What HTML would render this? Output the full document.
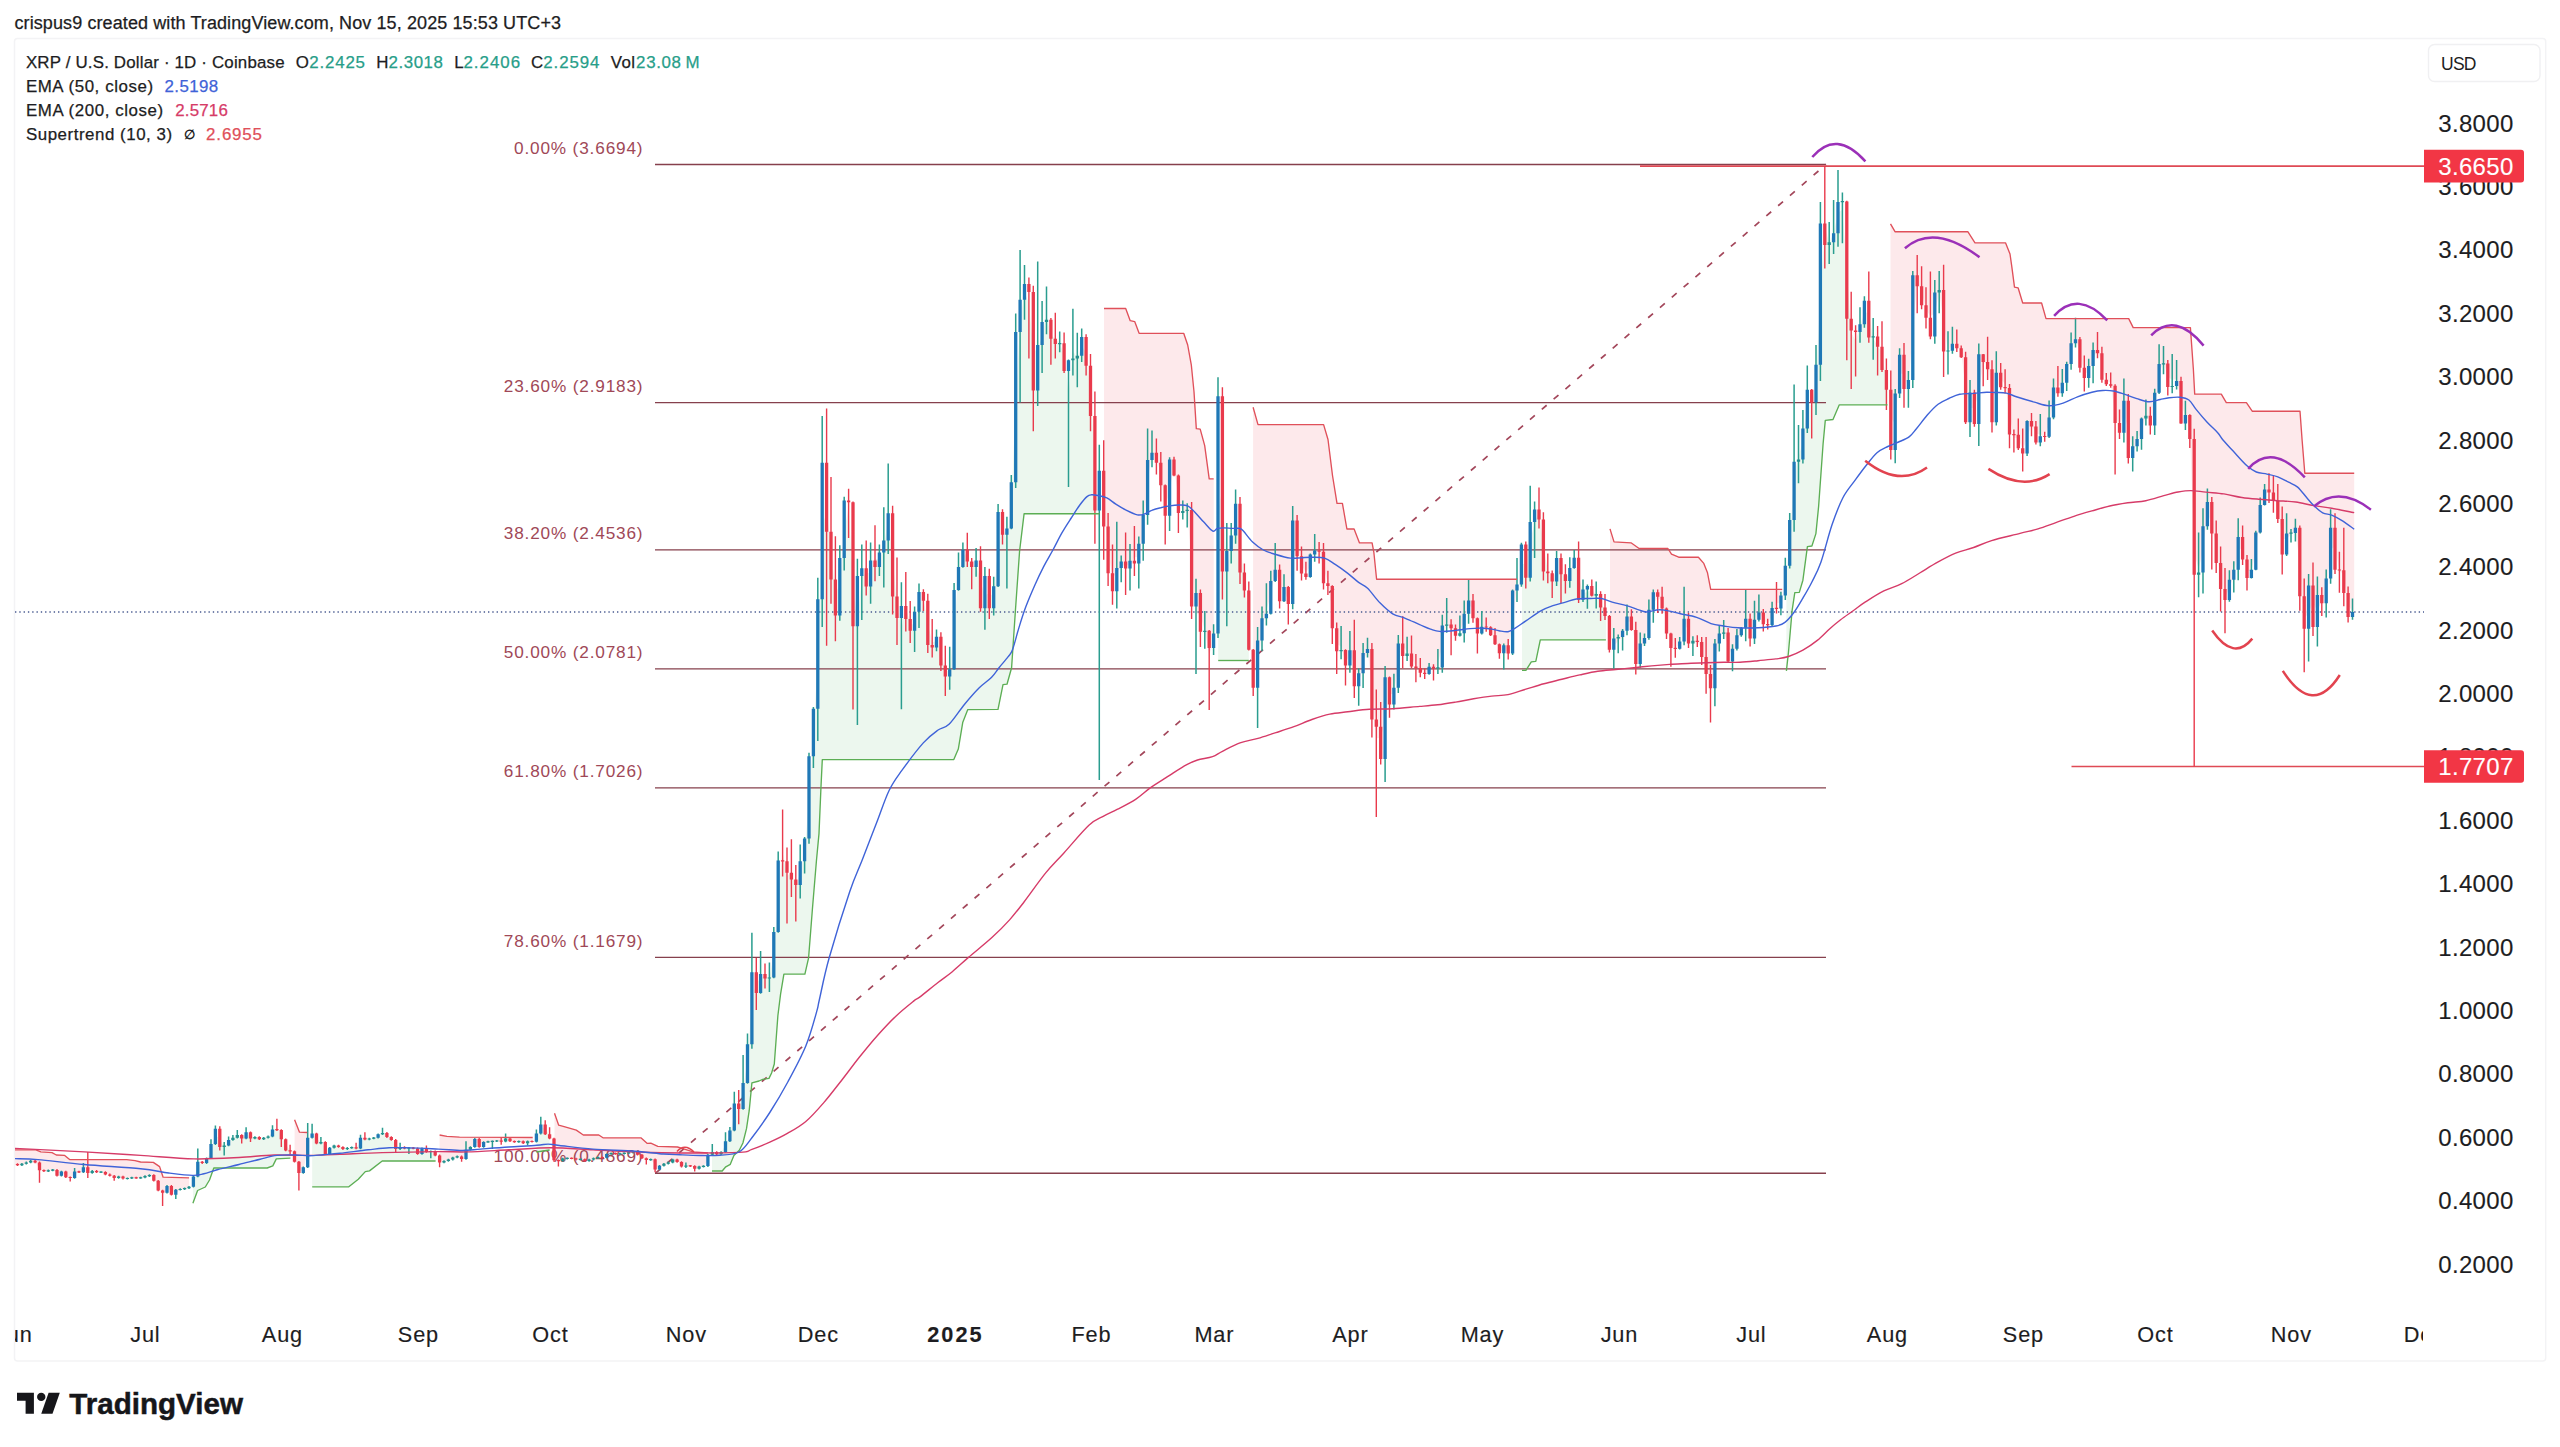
<!DOCTYPE html>
<html lang="en"><head><meta charset="utf-8"><title>XRP / U.S. Dollar chart</title>
<style>html,body{margin:0;padding:0;background:#fff}svg{display:block}</style></head>
<body>
<svg width="2560" height="1447" viewBox="0 0 2560 1447" font-family='"Liberation Sans", sans-serif'>
<rect width="2560" height="1447" fill="#fff"/>
<rect x="14.5" y="38.5" width="2531.2" height="1322.5" rx="3" fill="none" stroke="#f3f3f5" stroke-width="1.5"/>
<defs><clipPath id="pane"><rect x="15" y="39" width="2409" height="1270"/></clipPath></defs>
<g clip-path="url(#pane)">
<polygon points="14.8,1149.8 35.9,1149.8 40.8,1151.9 52,1152.6 56.3,1155 64.7,1155.4 69.6,1159.6 126.6,1159.6 135,1160.7 140.6,1162 153.3,1162.4 159.6,1166.6 163.1,1177.2 189.1,1177.9 189.1,1187.5 189,1187.5 184.6,1188.6 180.2,1189.5 175.8,1193.2 171.4,1190.3 167,1189.3 162.6,1194.7 158.2,1185.6 153.8,1177.9 149.4,1175.6 145,1176.8 140.6,1177.8 136.2,1177.8 131.8,1177.9 127.4,1178.5 123,1177.5 118.6,1177.2 114.2,1177.3 109.8,1175.1 105.4,1173.2 101,1172.1 96.6,1171.6 92.2,1171.9 87.8,1167.5 83.4,1169 79,1171.9 74.6,1174 70.2,1178.2 65.8,1174.4 61.4,1173.7 57,1172.8 52.7,1170.2 48.3,1170.9 43.9,1170.7 39.5,1169.3 35.1,1161.6 30.7,1161.6 26.3,1163.1 21.9,1164.5 17.5,1164.7 14.8,1164.7" fill="#fde9eb"/>
<polygon points="192.9,1203.2 197.6,1190.5 205.3,1187 209.5,1180 213.8,1168 267.2,1168 272.8,1165.9 276.3,1158.9 290.4,1158.2 290.4,1150.3 290.1,1150.3 285.7,1144.8 281.3,1136.4 276.9,1127.3 272.5,1132 268.1,1137.1 263.7,1138.5 259.3,1138.2 254.9,1137.8 250.5,1136 246.1,1134.3 241.7,1137.8 237.3,1135.4 232.9,1138.4 228.6,1142.1 224.2,1147.5 219.8,1138.1 215.4,1135.8 211,1150.1 206.6,1160.7 202.2,1162.4 197.8,1166 193.4,1181.6 192.9,1181.6" fill="#ecf7ee"/>
<polygon points="294.6,1119.8 299.5,1132.2 307.3,1132.5 307.3,1149.1 307.7,1149.1 303.3,1170.2 298.9,1171.5 294.5,1156.4 294.6,1156.4" fill="#fde9eb"/>
<polygon points="312.2,1186.8 348.8,1186.8 358.3,1179.3 365.3,1171.6 369.5,1170.9 382.2,1161 435.6,1161 435.6,1153.3 435.2,1153.3 430.8,1152.9 426.4,1149.6 422,1151.2 417.6,1151.2 413.2,1148.1 408.9,1149.4 404.5,1147.7 400.1,1147.2 395.7,1145.2 391.3,1138.5 386.9,1135 382.5,1132.5 378.1,1136.1 373.7,1138.2 369.3,1139 364.9,1137.5 360.5,1142.5 356.1,1146.9 351.7,1147.7 347.3,1148.5 342.9,1148 338.5,1146.3 334.1,1146.6 329.7,1150.8 325.3,1148 320.9,1141.7 316.5,1138.5 312.1,1133.4 312.2,1133.4" fill="#ecf7ee"/>
<polygon points="439.6,1135 446.9,1136.4 459.5,1137.1 532.7,1137.5 532.7,1141.5 532,1141.5 527.6,1142.6 523.2,1142.2 518.8,1141.7 514.4,1141.7 510,1139.9 505.6,1139 501.2,1141.1 496.8,1141 492.4,1143 488,1141.8 483.6,1144.5 479.2,1142.9 474.8,1142.9 470.4,1148.4 466,1152.4 461.6,1158.1 457.2,1156.9 452.8,1158.6 448.4,1160.3 444,1161.7 439.6,1159.9 439.6,1159.9" fill="#fde9eb"/>
<polygon points="536.4,1152 549.6,1150 549.6,1134.8 549.6,1134.8 545.2,1128.5 540.8,1127.3 536.4,1136.8 536.4,1136.8" fill="#ecf7ee"/>
<polygon points="554.5,1113.2 558.7,1125.2 565,1126.8 576.3,1130.1 583.3,1135 598.8,1135 603,1137.8 640.9,1137.8 647.3,1143.4 650.8,1143.2 657.8,1146.3 677.5,1147 684.5,1149.1 693,1151.9 707.9,1153 707.9,1160.4 707.9,1160.4 703.5,1166.3 699.1,1167.7 694.7,1167.9 690.3,1165.9 685.9,1165.7 681.5,1164.3 677.1,1160.8 672.7,1161 668.3,1163.1 663.9,1164.7 659.5,1167.6 655.1,1164.8 650.7,1159.6 646.3,1160 641.9,1156.4 637.5,1153.3 633.1,1152.2 628.7,1152.9 624.3,1153.4 619.9,1153.8 615.5,1153.6 611.1,1153.6 606.7,1155.9 602.3,1157.5 597.9,1157.7 593.5,1158.9 589.1,1160.3 584.8,1160.1 580.4,1159.4 576,1159 571.6,1158.3 567.2,1158.4 562.8,1159.8 558.4,1161.9 554,1149.6 554.5,1149.6" fill="#fde9eb"/>
<polygon points="712,1171 722.2,1171 725.8,1166.8 730.3,1164.3 733.9,1155.6 739.3,1150.2 742.9,1143 746.5,1128.7 749.2,1110.7 751.9,1082.9 759,1081 762.7,1079.3 769,1078.4 771.6,1073 774.3,1064 777.9,1015.5 780.6,993.9 783.9,974.1 804.9,974.1 808.6,957.8 812.4,909.2 816.5,860 819,833.6 820.9,788.7 822.3,759.6 953.8,759.6 958.3,749.1 962.8,722.2 967.8,709.6 998,709.3 1003,684.7 1007,684.2 1011.6,667.7 1015.2,613.8 1019.6,550.9 1024.1,513.7 1099.6,513.7 1099.6,551.5 1099.3,551.5 1094.9,465.4 1090.5,391.7 1086.1,353.1 1081.7,345.8 1077.3,358.6 1072.9,350.8 1068.5,394.4 1064.1,354.9 1059.7,342.8 1055.3,338.5 1050.9,335.3 1046.5,315.7 1042.1,335.2 1037.7,350.8 1033.3,349.9 1028.9,303 1024.5,292.1 1020.1,321.1 1015.7,404 1011.3,503.7 1006.9,542.1 1002.5,525.1 998.1,547.4 993.7,596.7 989.3,592.9 984.9,595.2 980.5,581.7 976.1,563.1 971.7,568.9 967.3,552.7 962.9,556.7 958.5,575 954.1,628 949.7,670.5 945.3,671 940.9,651.4 936.5,641.3 932.2,642.2 927.8,623.1 923.4,598.2 919,603.8 914.6,625.3 910.2,623.5 905.8,607.1 901.4,628.9 897,604.3 892.6,557.5 888.2,517.8 883.8,546.9 879.4,559.9 875,558.5 870.6,573.4 866.2,572.8 861.8,577.1 857.4,621.4 853,584.8 848.6,507.4 844.2,531.4 839.8,584.9 835.4,593.1 831,548 826.6,512.2 822.2,526.2 817.8,656.7 813.4,735 809,797.9 804.6,852.6 800.2,872.3 795.8,887.7 791.4,872.1 787,876.3 782.6,852 778.2,894.2 773.8,953.7 769.4,977.6 765,976.2 760.6,978 756.3,983.4 751.9,999.5 747.5,1061 743.1,1089.1 738.7,1106.7 734.3,1114.3 729.9,1135.2 725.5,1144.6 721.1,1153.1 716.7,1153.1 712.3,1151.6 712,1151.6" fill="#ecf7ee"/>
<polygon points="1104,308.5 1125.7,308.5 1130.2,320.7 1134.7,321.6 1139.1,333.3 1183.7,333.3 1187.7,345 1191.3,364.8 1194,391.7 1196.3,428.6 1200.2,429.1 1204.7,445.6 1209.2,478.9 1213.7,478.9 1213.7,640.2 1213.6,640.2 1209.2,654.7 1204.8,630.6 1200.4,615.3 1196,613.1 1191.6,559.4 1187.2,512.9 1182.8,511 1178.4,499 1174,467 1169.6,491 1165.2,507.5 1160.8,475.3 1156.4,457.1 1152,452.6 1147.6,482.1 1143.2,530 1138.8,558.1 1134.4,556.6 1130,565.9 1125.6,564.4 1121.2,566.8 1116.8,572.3 1112.5,578.5 1108.1,549.7 1103.7,499.4 1104,499.4" fill="#fde9eb"/>
<polygon points="1218.2,660.5 1248.8,660.5 1248.8,618.1 1248.8,618.1 1244.4,581 1240,539.3 1235.6,518.1 1231.2,543.2 1226.8,567.9 1222.4,488.6 1218,511.3 1218.2,511.3" fill="#ecf7ee"/>
<polygon points="1253.1,407.2 1258,424.6 1323.6,424.6 1328,439.5 1332.5,475.5 1337,503.3 1342.4,503.3 1346.9,529 1354.1,529 1359.5,542.9 1372.1,542.9 1373.9,552.7 1376.6,579.2 1517,579.2 1517,583.8 1517,583.8 1512.6,622.2 1508.2,649.3 1503.8,652.8 1499.4,649.9 1495,638.2 1490.6,631.3 1486.2,625.8 1481.8,626.5 1477.4,630.7 1473,608.9 1468.6,604.4 1464.2,622.5 1459.9,630.3 1455.5,632.3 1451.1,631.8 1446.7,620.2 1442.3,645.1 1437.9,664.6 1433.5,670 1429.1,669.7 1424.7,673.5 1420.3,669 1415.9,667.7 1411.5,656 1407.1,651.9 1402.7,646 1398.3,664.8 1393.9,693.9 1389.5,694 1385.1,721.1 1380.7,738.1 1376.3,738.2 1371.9,687.2 1367.5,649.3 1363.1,664.4 1358.7,683.4 1354.3,663.6 1349.9,654.9 1345.5,662.5 1341.1,646.6 1336.7,644 1332.3,610.9 1327.9,583.7 1323.5,566.9 1319.1,552 1314.7,550.2 1310.3,565.7 1305.9,573 1301.5,564.2 1297.1,540.6 1292.7,559.9 1288.3,600.4 1284,591.1 1279.6,586 1275.2,568.9 1270.8,595.1 1266.4,610.2 1262,629.2 1257.6,670.8 1253.2,670.6 1253.1,670.6" fill="#fde9eb"/>
<polygon points="1522,670.4 1525.9,670.4 1531.3,661.9 1535.8,661.4 1540.3,639.8 1605.9,639.8 1605.9,609.4 1605,609.4 1600.6,603.4 1596.2,594.9 1591.8,589.5 1587.4,592.2 1583,592.7 1578.6,575.5 1574.2,561.1 1569.8,573.5 1565.4,578.3 1561,572.2 1556.6,569.1 1552.2,580.8 1547.8,570.4 1543.4,545.9 1539,511.2 1534.6,522.8 1530.2,541.8 1525.8,563.1 1521.4,564.7 1522,564.7" fill="#ecf7ee"/>
<polygon points="1610,528.9 1614,541.9 1631,542.8 1639.1,548.5 1667.9,548.5 1671.5,554.1 1678.7,557.2 1698.4,557.2 1703.8,563.4 1707.4,572.4 1710.7,589.3 1782.2,589.3 1782.2,602.8 1780.9,602.8 1776.5,603 1772.1,615.4 1767.7,624.4 1763.3,619.2 1758.9,612.1 1754.5,625.8 1750.1,629.4 1745.7,619.5 1741.3,631.7 1736.9,640.9 1732.5,656.4 1728.1,646.1 1723.7,631.3 1719.3,638.6 1714.9,669.2 1710.5,687.4 1706.1,665.4 1701.7,650.3 1697.3,641.3 1692.9,644.1 1688.5,630.7 1684.1,623.1 1679.7,644.3 1675.3,648.1 1670.9,645.2 1666.5,622.1 1662.1,601.4 1657.7,597.8 1653.3,603.6 1648.9,621.8 1644.5,640.3 1640.2,651.9 1635.8,647.6 1631.4,621.6 1627,621.8 1622.6,636.9 1618.2,640.8 1613.8,646.2 1609.4,633.3 1610,633.3" fill="#fde9eb"/>
<polygon points="1786.4,670.9 1788.5,652 1792.1,610.7 1794.8,592.7 1799.3,592.4 1802.9,580.2 1807.4,546.6 1811.9,546 1815.9,533.6 1818.6,506.6 1823.1,443.8 1825.3,420.4 1833,419.5 1839.3,404.8 1887.5,404.8 1887.5,382.1 1886.4,382.1 1882,352.5 1877.6,346.2 1873.2,337.9 1868.8,313.1 1864.4,312.2 1860,326.5 1855.6,341 1851.2,332.5 1846.8,270.3 1842.4,209.8 1838,213 1833.6,232.4 1829.2,243.3 1824.8,225.7 1820.4,292.7 1816,381.8 1811.7,404.9 1807.3,404.2 1802.9,440.4 1798.5,457.4 1794.1,474.5 1789.7,541.8 1785.3,579.7 1786.4,579.7" fill="#ecf7ee"/>
<polygon points="1890.5,223.8 1895,231.7 1967.8,231.7 1975,242.8 2005.5,242.8 2010,254 2011.8,266.6 2014.5,287.2 2018.1,287.8 2022.7,303 2041.6,303 2046,318.6 2128.7,318.6 2133.2,327.6 2190.4,327.6 2193.4,369.8 2194.7,394.1 2221.3,394.1 2226.3,402.6 2246.4,402.6 2252.2,411.2 2300,411.2 2302.1,440 2304.8,473.2 2354.2,473.2 2354.2,611.8 2352.5,611.8 2348.1,604.7 2343.8,574.3 2339.4,571.1 2335,546.2 2330.6,549.7 2326.2,592.1 2321.8,600.4 2317.4,611.2 2313,602.7 2308.6,612.4 2304.2,618.9 2299.8,565 2295.4,530.2 2291,534.4 2286.6,539.3 2282.2,538.7 2277.8,506.8 2273.4,495.6 2269,489.5 2264.6,496 2260.2,517.1 2255.8,550.8 2251.4,571.3 2247,570.8 2242.6,546.7 2238.2,551.3 2233.8,575.8 2229.4,587.9 2225,597.5 2220.6,577.6 2216.2,547.5 2211.8,525.5 2207.4,511.7 2203,550.2 2198.6,569.3 2194.2,552.3 2189.8,429.1 2185.4,417.3 2181,401.2 2176.6,379.1 2172.2,380 2167.8,376.5 2163.5,362 2159.1,373.8 2154.7,410.5 2150.3,420.6 2145.9,414.8 2141.5,431.2 2137.1,441.9 2132.7,453 2128.3,429.1 2123.9,413.6 2119.5,426 2115.1,416.8 2110.7,382.6 2106.3,380.8 2101.9,365.7 2097.5,348.4 2093.1,360.5 2088.7,372.6 2084.3,373.1 2079.9,354.2 2075.5,336.9 2071.1,352.4 2066.7,374.9 2062.3,385.4 2057.9,385.8 2053.5,400.7 2049.1,423.2 2044.7,436.6 2040.3,434.8 2035.9,433.6 2031.5,424.2 2027.1,437.7 2022.7,450.4 2018.3,437.9 2013.9,437.7 2009.5,413.7 2005.1,384.5 2000.7,378.2 1996.3,392.9 1992,396 1987.6,362 1983.2,364.1 1978.8,391.9 1974.4,408.3 1970,407.9 1965.6,388.8 1961.2,352.3 1956.8,343.4 1952.4,343.7 1948,351.9 1943.6,320.8 1939.2,291.7 1934.8,313.3 1930.4,316.3 1926,309.7 1921.6,291.8 1917.2,282.4 1912.8,328.6 1908.4,386.9 1904,373.7 1899.6,373.6 1895.2,423.9 1890.8,417.5 1890.5,417.5" fill="#fde9eb"/>
<line x1="655" y1="164.5" x2="1826" y2="164.5" stroke="#86404d" stroke-width="1.35"/>
<line x1="655" y1="402.6" x2="1826" y2="402.6" stroke="#86404d" stroke-width="1.35"/>
<line x1="655" y1="549.9" x2="1826" y2="549.9" stroke="#86404d" stroke-width="1.35"/>
<line x1="655" y1="668.9" x2="1826" y2="668.9" stroke="#86404d" stroke-width="1.35"/>
<line x1="655" y1="787.9" x2="1826" y2="787.9" stroke="#86404d" stroke-width="1.35"/>
<line x1="655" y1="957.4" x2="1826" y2="957.4" stroke="#86404d" stroke-width="1.35"/>
<line x1="655" y1="1173.2" x2="1826" y2="1173.2" stroke="#86404d" stroke-width="1.35"/>
<line x1="655.5" y1="1173.2" x2="1826" y2="164.5" stroke="#a3465a" stroke-width="1.7" stroke-dasharray="6.4 9.2"/>
<line x1="15" y1="611.9" x2="2424" y2="611.9" stroke="#485a90" stroke-width="1.45" stroke-dasharray="1.35 2.95"/>
<line x1="1640" y1="166.2" x2="2424" y2="166.2" stroke="#df4a55" stroke-width="1.7"/>
<line x1="2071.5" y1="766.5" x2="2424" y2="766.5" stroke="#df4a55" stroke-width="1.5"/>
<text x="514" y="153.7" font-size="17.2" fill="#a04857" textLength="128.6" lengthAdjust="spacing">0.00% (3.6694)</text>
<text x="503.8" y="391.8" font-size="17.2" fill="#a04857" textLength="138.8" lengthAdjust="spacing">23.60% (2.9183)</text>
<text x="503.8" y="539.1" font-size="17.2" fill="#a04857" textLength="138.8" lengthAdjust="spacing">38.20% (2.4536)</text>
<text x="503.8" y="658.1" font-size="17.2" fill="#a04857" textLength="138.8" lengthAdjust="spacing">50.00% (2.0781)</text>
<text x="503.8" y="777.1" font-size="17.2" fill="#a04857" textLength="138.8" lengthAdjust="spacing">61.80% (1.7026)</text>
<text x="503.8" y="946.6" font-size="17.2" fill="#a04857" textLength="138.8" lengthAdjust="spacing">78.60% (1.1679)</text>
<text x="493.6" y="1162.4" font-size="17.2" fill="#a04857" textLength="149" lengthAdjust="spacing">100.00% (0.4869)</text>
<path d="M21.9 1163V1166M26.3 1161.6V1164.6M30.7 1159.9V1163.2M48.3 1169.6V1172.1M52.7 1169.1V1171.2M61.4 1170.8V1176.6M74.6 1168V1178.7M83.4 1163.1V1173.1M92.2 1170.1V1173.8M101 1171.2V1173.1M118.6 1175.7V1178.7M127.4 1177.5V1179.4M131.8 1176.7V1179.1M140.6 1176.7V1178.8M145 1175.3V1178.3M149.4 1174.3V1176.9M167 1185.1V1193.5M175.8 1189V1199M180.2 1188.3V1190.6M184.6 1187.4V1189.9M189 1186V1189M193.4 1175.7V1187.6M197.8 1148.4V1177.3M206.6 1157.4V1163.9M211 1139.2V1159M215.4 1125.4V1144.9M224.2 1142V1155.4M228.6 1136.4V1146.3M232.9 1135V1140.7M237.3 1130.1V1138.6M246.1 1127.3V1139.3M254.9 1136.3V1139.3M263.7 1137V1140M268.1 1135.6V1138.6M272.5 1125.2V1137.2M303.3 1166.5V1173.8M307.7 1123V1168.1M312.1 1123.8V1138.6M320.9 1137.1V1144.2M329.7 1146.9V1154.8M334.1 1144.7V1148.5M347.3 1147.1V1149.9M351.7 1146.6V1148.7M360.5 1134.7V1149.2M369.3 1137.7V1140.3M373.7 1137V1139.3M378.1 1133.5V1138.6M382.5 1127.7V1135.1M400.1 1142.7V1149.9M408.9 1147.1V1154M422 1147.6V1154.8M430.8 1150.4V1158.2M444 1160.2V1163.2M448.4 1158.8V1161.8M452.8 1156.7V1160.4M457.2 1155.6V1158.3M466 1141.3V1159.7M470.4 1146.2V1150.6M474.8 1138.1V1147.8M483.6 1141.2V1147.8M488 1140.7V1142.8M492.4 1140.4V1149.1M496.8 1140.1V1142M505.6 1133.6V1142.3M518.8 1140.5V1142.8M527.6 1140.5V1145.5M536.4 1129.4V1142.6M540.8 1116.7V1134.4M562.8 1157.8V1161.8M567.2 1157.4V1159.4M580.4 1158.4V1160.4M589.1 1158.8V1161.8M593.5 1157.4V1160.4M597.9 1156.4V1159M606.7 1153.2V1158.6M611.1 1152.5V1154.8M619.9 1152.8V1154.8M624.3 1152.5V1154.4M628.7 1151.8V1154.1M633.1 1151.1V1153.4M650.7 1158.4V1160.8M659.5 1164.9V1170.3M663.9 1163V1166.5M668.3 1161.6V1164.6M672.7 1158.8V1163.2M685.9 1162.4V1168M699.1 1165.8V1169.6M703.5 1165.3V1167.4M707.9 1153.9V1166.9M712.3 1144V1155.5M721.1 1151.2V1155M725.5 1132.3V1152.8M729.9 1126.9V1142.1M734.3 1091.8V1131.3M743.1 1055V1109.7M747.5 1033.4V1083.7M751.9 932.8V1048.7M760.6 951.1V993.8M769.4 962.5V992.1M773.8 927.1V978.2M778.2 851.4V932.8M800.2 844.6V898.6M804.6 837V873.5M809 752.7V843.8M813.4 706.9V768M817.8 577.7V741.1M822.2 415.9V627M839.8 545.3V620.8M844.2 496.8V570.5M857.4 558.8V724.9M861.8 544.4V619.9M870.6 542.6V603.7M879.4 544.4V575.9M883.8 507.2V587.5M888.2 463.6V553.9M901.4 582.2V709.3M914.6 606.4V652.1M919 583.4V628M936.5 629.6V651.2M949.7 646.7V689.8M954.1 583.1V670M958.5 552.5V590.7M962.9 542.6V567.7M976.1 548V576.8M984.9 566.9V629.8M993.7 576.8V615.4M998.1 504V587.1M1006.9 516.7V588.6M1011.3 475V529.2M1015.7 313.6V488M1020.1 250.1V402.5M1024.5 265V319.8M1037.7 261.4V406.1M1042.1 301V372.9M1046.5 286.6V334.2M1059.7 331.5V352.2M1068.5 359.5V487M1072.9 308.7V375.6M1077.3 332.8V387.2M1081.7 328.5V362.1M1099.3 444.7V779.9M1116.8 521.8V608.4M1121.2 555.4V582.3M1130 544V590.4M1138.8 536.5V588.6M1143.2 500.5V560.7M1147.6 428.6V524.8M1152 430.4V467.2M1169.6 457.3V531.1M1182.8 500.5V519.4M1187.2 503.2V527.5M1196 578.7V674M1204.8 611.1V648.8M1213.6 624.2V655.1M1218 377.3V638M1226.8 523V626.3M1231.2 523V563.4M1235.6 489.4V543.7M1257.6 627V727.9M1262 606.6V651.2M1266.4 583.3V625.5M1270.8 570.7V614.6M1275.2 542.9V581.9M1284 574.3V602.1M1292.7 506V609.3M1310.3 553.6V577.8M1314.7 533.9V561.7M1341.1 626.1V659.3M1349.9 630.9V672.8M1358.7 668.3V705.7M1363.1 643.1V688.1M1367.5 637.7V657.5M1385.1 666.1V781.9M1393.9 673.7V709.6M1398.3 635V693.1M1407.1 636.8V661.1M1429.1 662.9V674.8M1437.9 648.9V674M1442.3 614.7V672.8M1446.7 598V632.7M1459.9 615.6V636.6M1464.2 600.4V642.6M1468.6 579.7V623.7M1481.8 611.1V634.4M1503.8 643.4V669.5M1512.6 589.6V655.1M1517 558.1V602.1M1521.4 542.8V586.8M1530.2 485.8V581.4M1534.6 501.4V558.1M1556.6 550.9V585.9M1569.8 557.2V587.7M1574.2 550V568.7M1583 579.6V602.1M1587.4 584.6V608.7M1596.2 581.4V608.4M1613.8 628.1V668.6M1618.2 634.4V653.3M1622.6 629V650.6M1627 604.4V635.3M1640.2 632.6V667.7M1644.5 633.5V646.1M1648.9 599.4V639.8M1653.3 589.5V622.7M1679.7 637.1V649.6M1684.1 586.8V645.2M1692.9 636.2V656M1714.9 638.9V706.3M1719.3 626V651.5M1723.7 620V638.9M1732.5 644.3V671.3M1736.9 629V650.6M1741.3 626.9V636.8M1745.7 590V641.3M1754.5 600.8V644M1758.9 594.5V621.5M1772.1 601.7V626.9M1780.9 591.8V615.2M1785.3 557.7V599.9M1789.7 512.9V568.5M1794.1 384.5V531.8M1798.5 424.9V483.3M1802.9 410V463.5M1807.3 365.6V433M1816 344.9V415M1820.4 201.9V380.9M1829.2 222V263.9M1833.6 200.1V254M1838 169.9V246.8M1842.4 192.5V243.2M1860 307.2V342.8M1864.4 296.2V327.7M1873.2 318V359.7M1895.2 388.9V463.2M1899.6 348.2V397.9M1908.4 371V407.8M1912.8 271.1V388.1M1934.8 280V343.8M1939.2 271.1V313.3M1948 331.3V374.4M1952.4 326.8V353.7M1970 380V436.9M1978.8 343.5V445.9M1996.3 351.2V425.4M2027.1 420.3V456.1M2040.3 413.9V446.2M2049.1 400.4V438.1M2053.5 378.5V419.3M2062.3 368.9V396.8M2066.7 361.8V391.1M2071.1 332.5V369.8M2075.5 317.7V347.4M2088.7 358.7V387.8M2093.1 342.5V383.3M2123.9 378.5V442.6M2132.7 436.3V471.4M2137.1 430.9V451.6M2141.5 417.5V449.8M2145.9 399.5V425.6M2154.7 388.7V434.9M2159.1 344.3V394.1M2163.5 346.1V374.3M2172.2 354V393.2M2176.6 360V389.6M2185.4 400.8V430M2198.6 532.5V597.2M2203 508.3V593.6M2207.4 488.5V529.8M2229.4 570.3V601.7M2233.8 561.3V592.4M2238.2 518.2V580.2M2251.4 559V578.4M2255.8 530.7V570.3M2260.2 497.5V533.4M2264.6 484V505.6M2286.6 513.3V555.9M2291 528.9V542.4M2295.4 518.7V541.5M2308.6 573.9V661.4M2317.4 576.6V646.6M2326.2 569.4V617.5M2330.6 509.2V583.8M2352.5 598.5V619.7" stroke="#2a9d8f" stroke-width="1.5" fill="none"/>
<path d="M17.5 1163.3V1166M35.1 1159.9V1163.2M39.5 1161.6V1182.8M43.9 1169.4V1172.1M57 1169.1V1176.6M65.8 1170.8V1178M70.2 1176.4V1181.4M79 1170.8V1173.1M87.8 1151.9V1177.9M96.6 1170.1V1173.1M105.4 1171.2V1175.2M109.8 1173.6V1176.6M114.2 1175V1180.7M123 1175.7V1179.4M136.2 1176.7V1178.8M153.8 1174.3V1181.5M158.2 1179.9V1191.3M162.6 1189.7V1206M171.4 1185.1V1195.6M202.2 1160.9V1163.9M219.8 1126.3V1150.5M241.7 1134.2V1143.4M250.5 1131.4V1142M259.3 1136.3V1140M276.9 1118.8V1130.9M281.3 1129.3V1147M285.7 1138.4V1151.3M290.1 1144.8V1154.7M294.5 1150.4V1162.5M298.9 1160.9V1190.5M316.5 1132.8V1144.2M325.3 1141.2V1154.8M338.5 1144.7V1147.8M342.9 1146.2V1149.9M356.1 1142.7V1149.2M364.9 1132.2V1140.3M386.9 1132.1V1137.9M391.3 1136.3V1140.7M395.7 1139.1V1152.6M404.5 1146.2V1149.2M413.2 1147.1V1149.2M417.6 1147.6V1154.8M426.4 1145.5V1152.7M435.2 1150.4V1156.2M439.6 1154.6V1167.3M461.6 1155.6V1161.7M479.2 1138.1V1147.8M501.2 1137.1V1144.8M510 1137.7V1142.1M514.4 1140.5V1142.8M523.2 1140.5V1144M532 1140.5V1142.6M545.2 1120.2V1135.1M549.6 1127.3V1139.3M554 1137.7V1161.7M558.4 1159.5V1166.6M571.6 1157.4V1159.3M576 1157.7V1160.4M584.8 1158.4V1161.8M602.3 1156.4V1158.6M615.5 1152.5V1154.8M637.5 1151.1V1155.5M641.9 1153.9V1159M646.3 1157.4V1164.5M655.1 1158.4V1172.3M677.1 1158.8V1162.8M681.5 1161.2V1167.4M690.3 1164.9V1166.9M694.7 1165.3V1171.6M716.7 1151.2V1155M738.7 1090V1124.2M756.3 958V1010.1M765 963.4V988.5M782.6 809.6V876.5M787 847.6V923.6M791.4 839.3V897M795.8 865.1V921.4M826.6 408.4V645.8M831 477V603.7M835.4 536.3V641.3M848.6 488.7V538.1M853 501.4V709.6M866.2 540.5V595.6M875 525.2V581.3M892.6 505.8V614.5M897 557.5V644.9M905.8 571.9V631.6M910.2 601V643.1M923.4 589.3V610.9M927.8 593.8V653M932.2 618.9V657.5M940.9 632.3V671M945.3 645.8V696.1M967.3 532.7V566.9M971.7 557.9V589.3M980.5 546.2V611.8M989.3 568.7V619M1002.5 509.2V544.6M1028.9 277.6V358.5M1033.3 285.7V431.3M1050.9 318.1V364.8M1055.3 312.7V358.5M1064.1 332.4V372.9M1086.1 334.2V375.6M1090.5 354V431.3M1094.9 391.4V543.7M1103.7 440.2V559.8M1108.1 513.1V585.9M1112.5 544.6V604.8M1125.6 532.5V594.9M1134.4 526.1V576M1156.4 438.4V474.4M1160.8 451.9V501.4M1165.2 484.5V544.6M1174 456.8V476.2M1178.4 474.6V532.9M1191.6 502V619.1M1200.4 589.5V647M1209.2 630V709.9M1222.4 387.2V599.4M1240 497V584.1M1244.4 563.5V597.6M1248.8 581.5V650.6M1253.2 649V696.1M1279.6 564.4V608.4M1288.3 586.1V624.6M1297.1 515V570.7M1301.5 546.5V580.6M1305.9 561.7V579.7M1319.1 542V563.5M1323.5 542.9V589.6M1327.9 570.7V595M1332.3 585.2V644M1336.7 622.5V674M1345.5 649.2V685.4M1354.3 619.8V697.9M1371.9 643.1V737.5M1376.3 689.5V817.1M1380.7 702.1V764.4M1389.5 676.4V717.7M1402.7 616.2V668.3M1411.5 635.6V668.3M1415.9 653.9V682.3M1420.3 657.9V677.3M1424.7 668.3V679.1M1433.5 664.3V680.5M1451.1 619.2V655.2M1455.5 624.6V640.8M1473 594.1V622.8M1477.4 617.5V653.4M1486.2 617.4V631.8M1490.6 626.3V636.1M1495 628.1V645.1M1499.4 643.5V658.7M1508.2 638.9V659.6M1525.8 541.5V588.6M1539 487.6V528.4M1543.4 512.2V580.5M1547.8 553.6V583.2M1552.2 570.6V597.9M1561 553.6V603M1565.4 564.3V593.6M1578.6 541.5V603M1591.8 579.6V596.6M1600.6 591.3V620.9M1605 594V620M1609.4 615.1V652.4M1631.4 609.3V630.8M1635.8 621.8V674.5M1657.7 589.5V612.9M1662.1 586.8V613.8M1666.5 607.5V638.9M1670.9 632.7V666.8M1675.3 638V657.8M1688.5 612.9V647.9M1697.3 635.3V647M1701.7 637.1V665M1706.1 637.1V693.7M1710.5 665V722.5M1728.1 628.1V662.3M1750.1 613.4V646.6M1763.3 608.9V631.4M1767.7 618.8V629.6M1776.5 582V613.4M1811.7 389V438.4M1824.8 165.9V268.4M1846.8 200.7V360.2M1851.2 291.7V388.9M1855.6 325.2V376.4M1868.8 271.6V342.8M1877.6 326.1V375.5M1882 321.2V371.9M1886.4 358.4V410M1890.8 370.4V459.6M1904 343.1V407.8M1917.2 254.9V313.3M1921.6 266.2V309.3M1926 287.2V328.6M1930.4 271.6V339.3M1943.6 264.8V377.1M1956.8 329.5V351.9M1961.2 345.6V358.1M1965.6 351.8V424M1974.4 389.8V426.7M1983.2 353.9V386.3M1987.6 336.8V380M1992 360.2V432.6M2000.7 362.9V389.8M2005.1 369.2V393.4M2009.5 384.1V448.2M2013.9 429.4V452.4M2018.3 418.6V450M2022.7 428.5V471.4M2031.5 413V436.3M2035.9 421.1V444.4M2044.7 431.8V441.7M2057.9 365.9V396.8M2079.9 337.1V372.5M2084.3 355.5V391.4M2097.5 332.1V358.2M2101.9 346.8V382.8M2106.3 373.1V386M2110.7 372.5V387.8M2115.1 384.2V474.4M2119.5 409.4V439M2128.3 394.1V463.6M2150.3 406.7V434.5M2167.8 360V395.4M2181 376.7V423.8M2189.8 414.3V448M2194.2 428.8V766.5M2211.8 497.1V569.4M2216.2 520.5V573M2220.6 546.4V611.6M2225 567.9V633.2M2242.6 525.4V564.9M2247 555V590.6M2269 473.2V502.9M2273.4 475.9V512.8M2277.8 484V523M2282.2 506.5V574.4M2299.8 525.4V610.7M2304.2 578.4V672.2M2313 562.6V635.9M2321.8 587.3V616.1M2335 513.3V573.9M2339.4 551.8V592.7M2343.8 527.7V606.2M2348.1 586.5V622.4" stroke="#e93a4c" stroke-width="1.4" fill="none"/>
<path d="M61.4 1171.6V1175.8M74.6 1171.6V1177.9M83.4 1167.3V1172.3M167 1185.9V1192.7M175.8 1189.8V1194.8M193.4 1176.5V1186.8M197.8 1161.7V1176.5M206.6 1158.2V1163.1M211 1144.1V1158.2M215.4 1128.7V1144.1M228.6 1139.9V1145.5M246.1 1132.2V1138.5M272.5 1129.4V1136.4M303.3 1167.3V1173M307.7 1137.8V1167.3M312.1 1133.6V1137.8M329.7 1147.7V1154M360.5 1137.8V1148.4M378.1 1134.3V1137.8M422 1148.4V1154M466 1149.8V1158.9M474.8 1138.9V1147M483.6 1142V1147M536.4 1133.6V1141.8M540.8 1124.5V1133.6M606.7 1154V1157.8M659.5 1165.7V1169.5M707.9 1154.7V1166.1M725.5 1141.3V1152M729.9 1130.5V1141.3M734.3 1103.5V1130.5M743.1 1082.9V1108.9M747.5 1044.2V1082.9M751.9 972.3V1044.2M760.6 974.1V993M773.8 932V977.4M778.2 860.6V932M800.2 861.3V884.9M804.6 838.5V861.3M809 756.3V838.5M813.4 708.7V756.3M817.8 599.2V708.7M822.2 462.7V599.2M839.8 557.9V615.4M844.2 500.4V557.9M857.4 575.9V626.2M861.8 568.3V575.9M870.6 560.6V586.6M879.4 552.5V566.9M883.8 540.5V552.5M888.2 513.3V540.5M901.4 606.1V618.1M914.6 611.8V630.7M919 592V611.8M936.5 636.8V647.6M949.7 669.2V676.4M954.1 589.9V669.2M958.5 566.9V589.9M962.9 549.8V566.9M976.1 560.6V566.9M984.9 575.9V608.2M993.7 586.3V608.2M998.1 512.1V586.3M1006.9 528.4V534.7M1011.3 482.2V528.4M1015.7 332.1V482.2M1020.1 299.7V332.1M1024.5 283.9V299.7M1037.7 345V390.5M1042.1 322V345M1068.5 360.3V371.1M1081.7 336.9V355.8M1099.3 470.8V510.4M1116.8 567.9V591.3M1121.2 561.6V567.9M1130 560.7V568.5M1138.8 543.7V563.4M1143.2 514.9V543.7M1147.6 460V514.9M1152 452.8V460M1169.6 459.6V515.8M1196 593.1V606.6M1213.6 633.5V647.9M1218 396.2V633.5M1226.8 550.9V571.5M1231.2 535.6V550.9M1235.6 503.8V535.6M1257.6 640.4V687.7M1262 618.3V640.4M1266.4 613.8V618.3M1270.8 581.1V613.8M1275.2 569.8V581.1M1284 586.9V601.3M1292.7 520.4V604M1310.3 554.5V577M1314.7 550.6V554.5M1349.9 650.3V665.6M1358.7 673.3V686.3M1363.1 653V673.3M1367.5 648.9V653M1385.1 677.3V759M1393.9 687.7V704.6M1398.3 643.5V687.7M1429.1 666.8V674M1442.3 625.5V667.4M1464.2 613.8V633.2M1468.6 600.4V613.8M1481.8 626.8V633.6M1503.8 645.2V653.3M1512.6 590.4V653.6M1517 584.6V590.4M1521.4 544.6V584.6M1530.2 522.1V577.8M1534.6 509.5V522.1M1556.6 558.1V581.4M1569.8 567.9V581.1M1574.2 557.7V567.9M1583 589.5V599.7M1587.4 585.9V589.5M1613.8 638.6V649.7M1622.6 630.8V637.1M1627 616.5V630.8M1640.2 643.4V664.1M1644.5 638V643.4M1648.9 609.8V638M1653.3 592.2V609.8M1679.7 641.6V648.8M1684.1 618.8V641.6M1714.9 643.4V688.3M1719.3 633.5V643.4M1732.5 648.8V661.4M1736.9 635.3V648.8M1741.3 627.8V635.3M1745.7 618.8V627.8M1754.5 619.7V638.6M1758.9 612.5V619.7M1772.1 608V625.1M1780.9 595.4V608.6M1785.3 565.8V595.4M1789.7 520.1V565.8M1794.1 461.7V520.1M1802.9 428.5V459.6M1807.3 389.8V428.5M1816 364.7V402.4M1820.4 223.4V364.7M1833.6 233.3V242.3M1838 201.9V233.3M1860 324.3V332M1864.4 300.7V324.3M1895.2 393.4V450M1899.6 354.8V393.4M1908.4 380V388.9M1912.8 275.2V380M1934.8 292.6V336.6M1952.4 343.8V350.7M1970 392.5V422.2M1978.8 354.3V424M1996.3 372.8V422.2M2027.1 421.1V453.4M2040.3 436.3V442.6M2049.1 417.5V436.7M2053.5 387.5V417.5M2062.3 382.8V393.2M2066.7 364.1V382.8M2071.1 343.3V364.1M2075.5 339.3V343.3M2088.7 365.9V377.9M2093.1 350.1V365.9M2123.9 400.8V432.7M2132.7 446.2V457.9M2137.1 439V446.2M2141.5 418.4V439M2154.7 392.8V425.6M2159.1 364.1V392.8M2176.6 381V386M2185.4 415.1V423.4M2203 526.3V572.6M2207.4 502V526.3M2229.4 579.8V599.9M2233.8 569.7V579.8M2238.2 537V569.7M2251.4 569.7V578M2255.8 532.5V569.7M2260.2 505V532.5M2264.6 489.4V505M2286.6 533.4V554.6M2295.4 527.7V532.9M2308.6 585.6V628.7M2317.4 594.9V626.9M2326.2 578.4V603.2M2330.6 527.7V578.4M2352.5 612.1V617" stroke="#1f78b6" stroke-width="3.3" fill="none"/>
<path d="M21.9 1163.8V1165.2M26.3 1162.4V1163.8M30.7 1160.7V1162.4M48.3 1170.3V1171.5M52.7 1169.6V1170.8M92.2 1170.9V1173M101 1171.5V1172.7M118.6 1176.5V1177.9M127.4 1177.9V1179.1M131.8 1177.3V1178.5M140.6 1177.2V1178.4M145 1176.1V1177.5M149.4 1175V1176.2M180.2 1188.9V1190.1M184.6 1188V1189.2M189 1186.8V1188.2M224.2 1145.5V1147M232.9 1137.8V1139.9M237.3 1135V1137.8M254.9 1137.1V1138.5M263.7 1137.8V1139.2M268.1 1136.4V1137.8M320.9 1142V1143.4M334.1 1145.5V1147.7M347.3 1147.9V1149.1M351.7 1147.1V1148.3M369.3 1138.4V1139.6M373.7 1137.6V1138.8M382.5 1132.9V1134.3M400.1 1147V1149.1M408.9 1147.5V1148.7M430.8 1150.9V1152.1M444 1161V1162.4M448.4 1159.6V1161M452.8 1157.5V1159.6M457.2 1156.3V1157.5M470.4 1147V1149.8M488 1141.2V1142.4M492.4 1140.7V1141.9M496.8 1140.4V1141.6M505.6 1138.5V1141.5M518.8 1141.1V1142.3M527.6 1141.3V1143.2M562.8 1158.6V1161M567.2 1157.8V1159M580.4 1158.8V1160M589.1 1159.6V1161M593.5 1158.2V1159.6M597.9 1157.1V1158.3M611.1 1153V1154.2M619.9 1153.2V1154.4M624.3 1152.8V1154M628.7 1152.3V1153.5M633.1 1151.6V1152.8M650.7 1159V1160.2M663.9 1163.8V1165.7M668.3 1162.4V1163.8M672.7 1159.6V1162.4M685.9 1165.5V1166.7M699.1 1166.6V1168.8M703.5 1165.7V1166.9M712.3 1152V1154.7M721.1 1152V1154.2M769.4 977.4V978.6M1046.5 319.8V322M1059.7 343.1V344.3M1072.9 358.5V360.3M1077.3 355.8V358.5M1182.8 511V513.1M1187.2 509.8V511M1204.8 630.7V631.9M1341.1 650V651.2M1407.1 653.5V656.1M1437.9 667.2V668.4M1446.7 624.5V625.7M1459.9 633.2V635.8M1596.2 594V595.8M1618.2 637.1V638.6M1692.9 640.7V643.4M1723.7 632.5V633.7M1798.5 459.6V461.7M1829.2 242.3V245M1842.4 201.1V202.3M1873.2 336.3V337.5M1939.2 289.9V292.6M1948 350.4V351.6M2145.9 415.7V418.4M2163.5 363.2V364.4M2172.2 385.9V387.1M2198.6 572.6V574.8M2291 532.6V533.8" stroke="#24908f" stroke-width="3.3" fill="none"/>
<path d="M17.5 1164.1V1165.3M35.1 1160.7V1162.4M39.5 1162.4V1170.2M43.9 1170.1V1171.3M57 1169.9V1175.8M65.8 1171.6V1177.2M70.2 1176.9V1178.1M79 1171.3V1172.5M87.8 1167.3V1173M96.6 1170.9V1172.3M105.4 1172V1174.4M109.8 1174.4V1175.8M114.2 1175.8V1177.9M123 1176.5V1178.6M136.2 1177.2V1178.4M153.8 1175.1V1180.7M158.2 1180.7V1190.5M162.6 1190.5V1192.7M171.4 1185.9V1194.8M202.2 1161.7V1163.1M219.8 1128.7V1147M241.7 1135V1138.5M250.5 1132.2V1138.5M259.3 1137.1V1139.2M276.9 1129.1V1130.3M281.3 1130.1V1139.2M285.7 1139.2V1150.5M290.1 1150.2V1151.4M294.5 1151.2V1161.7M298.9 1161.7V1173M316.5 1133.6V1143.4M325.3 1142V1154M338.5 1145.5V1147M342.9 1147V1149.1M356.1 1147.3V1148.5M364.9 1137.8V1139.5M386.9 1132.9V1137.1M391.3 1137.1V1139.9M395.7 1139.9V1149.1M404.5 1147V1148.4M413.2 1147.5V1148.7M417.6 1148.4V1154M426.4 1148.4V1151.9M435.2 1151.2V1155.4M439.6 1155.4V1162.4M461.6 1156.4V1158.9M479.2 1138.9V1147M501.2 1140.6V1141.8M510 1138.5V1141.3M514.4 1141.1V1142.3M523.2 1141.3V1143.2M532 1140.9V1142.1M545.2 1124.5V1134.3M549.6 1134.3V1138.5M554 1138.5V1160.3M558.4 1160.1V1161.3M571.6 1157.7V1158.9M576 1158.4V1159.6M584.8 1159.2V1161M602.3 1156.9V1158.1M615.5 1153V1154.2M637.5 1151.9V1154.7M641.9 1154.7V1158.2M646.3 1158.2V1160M655.1 1159.2V1169.5M677.1 1159.6V1162M681.5 1162V1166.6M690.3 1165.3V1166.5M694.7 1166.1V1168.8M716.7 1152V1154.2M738.7 1103.5V1108.9M756.3 972.3V993M765 974.1V978.6M782.6 860.3V861.5M787 861.3V872.7M791.4 872.7V879.6M795.8 879.6V884.9M826.6 462.7V531.8M831 531.8V579.5M835.4 579.5V615.4M848.6 500.4V502.2M853 502.2V626.2M866.2 568.3V586.6M875 560.6V566.9M892.6 513.3V596.5M897 596.5V618.1M905.8 606.1V619M910.2 619V630.7M923.4 592V600.7M927.8 600.7V644.9M932.2 644.9V647.6M940.9 636.8V665.6M945.3 665.6V676.4M967.3 549.8V561.5M971.7 561.5V566.9M980.5 560.6V608.2M989.3 575.9V608.2M1002.5 512.1V534.7M1028.9 283.9V292M1033.3 292V390.5M1050.9 319.8V338.7M1055.3 338.7V344.1M1064.1 343.2V371.1M1086.1 336.9V365.7M1090.5 365.7V416M1094.9 416V510.4M1103.7 470.8V526.6M1108.1 526.6V573.3M1112.5 573.3V591.3M1125.6 561.6V568.5M1134.4 560.7V563.4M1156.4 452.8V462.7M1160.8 462.7V485.3M1165.2 485.3V515.8M1174 459.6V475.4M1178.4 475.4V513.1M1191.6 509.9V606.6M1200.4 593.1V631.7M1209.2 630.8V647.9M1222.4 396.2V571.5M1240 503.8V572.4M1244.4 572.4V590.5M1248.8 590.5V649.8M1253.2 649.8V687.7M1279.6 569.8V601.3M1288.3 586.9V604M1297.1 520.4V556.3M1301.5 556.3V573.4M1305.9 573.4V577M1319.1 550.6V551.8M1323.5 551.8V583.3M1327.9 583.3V586M1332.3 586V628.2M1336.7 628.2V651.2M1345.5 650V665.6M1354.3 650.3V686.3M1371.9 648.9V719.5M1376.3 719.5V726.7M1380.7 726.7V759M1389.5 677.3V704.6M1402.7 643.5V656.1M1411.5 653.5V666.5M1415.9 666.5V667.9M1420.3 667.9V672.8M1424.7 672.8V674M1433.5 666.8V668.3M1451.1 624.6V628.2M1455.5 628.2V635.8M1473 600.4V618.3M1477.4 618.3V633.6M1486.2 626.4V627.6M1490.6 627.3V635.3M1495 635.3V644.3M1499.4 644.3V653.3M1508.2 645.2V653.6M1525.8 544.6V577.8M1539 509.5V519.4M1543.4 519.4V571.5M1547.8 571.5V573.3M1552.2 573.3V581.4M1561 558.1V574.2M1565.4 574.2V581.1M1578.6 557.7V599.7M1591.8 585.9V595.8M1600.6 594V607.5M1605 607.5V615.9M1609.4 615.9V649.7M1631.4 616.5V629.9M1635.8 629.9V664.1M1657.7 592.2V596.7M1662.1 596.7V608.4M1666.5 608.4V633.5M1670.9 633.5V647.9M1675.3 647.7V648.9M1688.5 618.8V643.4M1697.3 640.7V642.1M1701.7 642.1V656.9M1706.1 656.9V674M1710.5 674V688.3M1728.1 632.6V661.4M1750.1 618.8V638.6M1763.3 612.5V624.2M1767.7 624V625.2M1776.5 607.7V608.9M1811.7 389.8V402.4M1824.8 223.4V245M1846.8 201.5V318.7M1851.2 318.7V330.5M1855.6 330.5V332M1868.8 300.7V337.4M1877.6 336.5V346.7M1882 346.7V370.1M1886.4 370.1V389.8M1890.8 389.8V450M1904 354.8V388.9M1917.2 275.2V286.3M1921.6 286.3V305.2M1926 305.2V317.8M1930.4 317.8V336.6M1943.6 289.9V351.4M1956.8 343.8V348.3M1961.2 348.3V357.3M1965.6 357.3V422.2M1974.4 392.5V424M1983.2 354.3V362M1987.6 362V369.2M1992 369.2V422.2M2000.7 372.8V387.2M2005.1 387V388.2M2009.5 388.1V434.4M2013.9 434V435.2M2018.3 434.8V448.2M2022.7 448.2V453.4M2031.5 421.1V426.5M2035.9 426.5V442.6M2044.7 435.9V437.1M2057.9 387.5V393.2M2079.9 339.3V367.7M2084.3 367.7V377.9M2097.5 350.1V353.3M2101.9 353.3V379.7M2106.3 379.7V384.2M2110.7 384.2V385.7M2115.1 385.7V422.9M2119.5 422.9V432.7M2128.3 400.8V457.9M2150.3 415.7V425.6M2167.8 363.6V386.9M2181 381V423.4M2189.8 415.1V439M2194.2 439V574.8M2211.8 502V533.4M2216.2 533.4V563.1M2220.6 563.1V589.1M2225 589.1V599.9M2242.6 537V559.5M2247 559.5V578M2269 489.4V492.5M2273.4 492.5V501.1M2277.8 501.1V519.1M2282.2 519.1V554.6M2299.8 527.7V596.3M2304.2 596.3V628.7M2313 585.6V626.9M2321.8 594.9V603.2M2335 527.7V569.7M2339.4 569.4V570.6M2343.8 570.3V593.1M2348.1 593.1V617" stroke="#e93a4c" stroke-width="3.3" fill="none"/>
<polyline points="14.8,1149.8 35.9,1149.8 40.8,1151.9 52,1152.6 56.3,1155 64.7,1155.4 69.6,1159.6 126.6,1159.6 135,1160.7 140.6,1162 153.3,1162.4 159.6,1166.6 163.1,1177.2 189.1,1177.9" fill="none" stroke="#e0505a" stroke-width="1.35" stroke-linejoin="round"/>
<polyline points="192.9,1203.2 197.6,1190.5 205.3,1187 209.5,1180 213.8,1168 267.2,1168 272.8,1165.9 276.3,1158.9 290.4,1158.2" fill="none" stroke="#5cae54" stroke-width="1.35" stroke-linejoin="round"/>
<polyline points="294.6,1119.8 299.5,1132.2 307.3,1132.5" fill="none" stroke="#e0505a" stroke-width="1.35" stroke-linejoin="round"/>
<polyline points="312.2,1186.8 348.8,1186.8 358.3,1179.3 365.3,1171.6 369.5,1170.9 382.2,1161 435.6,1161" fill="none" stroke="#5cae54" stroke-width="1.35" stroke-linejoin="round"/>
<polyline points="439.6,1135 446.9,1136.4 459.5,1137.1 532.7,1137.5" fill="none" stroke="#e0505a" stroke-width="1.35" stroke-linejoin="round"/>
<polyline points="536.4,1152 549.6,1150" fill="none" stroke="#5cae54" stroke-width="1.35" stroke-linejoin="round"/>
<polyline points="554.5,1113.2 558.7,1125.2 565,1126.8 576.3,1130.1 583.3,1135 598.8,1135 603,1137.8 640.9,1137.8 647.3,1143.4 650.8,1143.2 657.8,1146.3 677.5,1147 684.5,1149.1 693,1151.9 707.9,1153" fill="none" stroke="#e0505a" stroke-width="1.35" stroke-linejoin="round"/>
<polyline points="712,1171 722.2,1171 725.8,1166.8 730.3,1164.3 733.9,1155.6 739.3,1150.2 742.9,1143 746.5,1128.7 749.2,1110.7 751.9,1082.9 759,1081 762.7,1079.3 769,1078.4 771.6,1073 774.3,1064 777.9,1015.5 780.6,993.9 783.9,974.1 804.9,974.1 808.6,957.8 812.4,909.2 816.5,860 819,833.6 820.9,788.7 822.3,759.6 953.8,759.6 958.3,749.1 962.8,722.2 967.8,709.6 998,709.3 1003,684.7 1007,684.2 1011.6,667.7 1015.2,613.8 1019.6,550.9 1024.1,513.7 1099.6,513.7" fill="none" stroke="#5cae54" stroke-width="1.35" stroke-linejoin="round"/>
<polyline points="1104,308.5 1125.7,308.5 1130.2,320.7 1134.7,321.6 1139.1,333.3 1183.7,333.3 1187.7,345 1191.3,364.8 1194,391.7 1196.3,428.6 1200.2,429.1 1204.7,445.6 1209.2,478.9 1213.7,478.9" fill="none" stroke="#e0505a" stroke-width="1.35" stroke-linejoin="round"/>
<polyline points="1218.2,660.5 1248.8,660.5" fill="none" stroke="#5cae54" stroke-width="1.35" stroke-linejoin="round"/>
<polyline points="1253.1,407.2 1258,424.6 1323.6,424.6 1328,439.5 1332.5,475.5 1337,503.3 1342.4,503.3 1346.9,529 1354.1,529 1359.5,542.9 1372.1,542.9 1373.9,552.7 1376.6,579.2 1517,579.2" fill="none" stroke="#e0505a" stroke-width="1.35" stroke-linejoin="round"/>
<polyline points="1522,670.4 1525.9,670.4 1531.3,661.9 1535.8,661.4 1540.3,639.8 1605.9,639.8" fill="none" stroke="#5cae54" stroke-width="1.35" stroke-linejoin="round"/>
<polyline points="1610,528.9 1614,541.9 1631,542.8 1639.1,548.5 1667.9,548.5 1671.5,554.1 1678.7,557.2 1698.4,557.2 1703.8,563.4 1707.4,572.4 1710.7,589.3 1782.2,589.3" fill="none" stroke="#e0505a" stroke-width="1.35" stroke-linejoin="round"/>
<polyline points="1786.4,670.9 1788.5,652 1792.1,610.7 1794.8,592.7 1799.3,592.4 1802.9,580.2 1807.4,546.6 1811.9,546 1815.9,533.6 1818.6,506.6 1823.1,443.8 1825.3,420.4 1833,419.5 1839.3,404.8 1887.5,404.8" fill="none" stroke="#5cae54" stroke-width="1.35" stroke-linejoin="round"/>
<polyline points="1890.5,223.8 1895,231.7 1967.8,231.7 1975,242.8 2005.5,242.8 2010,254 2011.8,266.6 2014.5,287.2 2018.1,287.8 2022.7,303 2041.6,303 2046,318.6 2128.7,318.6 2133.2,327.6 2190.4,327.6 2193.4,369.8 2194.7,394.1 2221.3,394.1 2226.3,402.6 2246.4,402.6 2252.2,411.2 2300,411.2 2302.1,440 2304.8,473.2 2354.2,473.2" fill="none" stroke="#e0505a" stroke-width="1.35" stroke-linejoin="round"/>
<path d="M14.8 1148.4C26.4 1149 63.4 1150.7 84.4 1151.9C105.4 1153.1 122.3 1154.2 140.6 1155.4C158.9 1156.6 177.6 1158.6 194 1158.9C210.4 1159.2 225.6 1158.2 239 1157.5C252.4 1156.8 262.5 1155.3 274.2 1155C285.9 1154.7 298.4 1155.5 309.4 1155.4C320.4 1155.3 327.9 1154.9 340 1154.4C352.1 1153.9 365.8 1153.1 382.2 1152.6C398.6 1152.1 424.3 1151.7 438.4 1151.6C452.5 1151.5 454.9 1152.2 466.6 1151.9C478.3 1151.6 494.8 1150.5 508.8 1149.8C522.9 1149.1 536.9 1147.7 550.9 1147.7C564.9 1147.7 579 1149.1 593.1 1149.8C607.2 1150.5 620.8 1151.4 635.3 1151.9C649.8 1152.4 662.7 1152.9 680 1153C697.3 1153.1 727.3 1153 739.3 1152.4C751.3 1151.8 746.8 1151 751.9 1149.3C757 1147.6 763.8 1144.9 769.8 1142.2C775.8 1139.5 781.8 1136.7 787.8 1133.2C793.8 1129.8 799.8 1126.6 805.8 1121.5C811.8 1116.4 817.8 1109.5 823.8 1102.6C829.8 1095.7 835.7 1087.8 841.7 1080.2C847.7 1072.6 853.7 1064.3 859.7 1056.8C865.7 1049.3 871.7 1041.9 877.7 1035.2C883.7 1028.5 889.6 1022.1 895.6 1016.4C901.6 1010.7 909.5 1004.4 913.6 1001.1C917.7 997.9 915.9 1000 920 996.9C924.1 993.8 932.6 986.7 938 982.5C943.4 978.3 947.2 975.9 952.3 971.7C957.4 967.5 961.9 963.1 968.5 957.4C975.1 951.7 985 943.9 991.9 937.6C998.8 931.3 1004.4 925.6 1009.8 919.6C1015.2 913.6 1018.2 909.5 1024.2 901.7C1030.2 893.9 1039.1 881 1045.7 872.9C1052.3 864.8 1056.5 861.1 1063.7 853.2C1070.9 845.3 1082.3 831.4 1088.9 825.3C1095.5 819.1 1098.4 819 1103.2 816.3C1108 813.6 1112.2 812 1117.6 809.2C1123 806.4 1130.2 802.8 1135.6 799.3C1141 795.8 1145.1 791.5 1149.9 788.1C1154.7 784.7 1160.6 781.2 1164.4 778.7C1168.2 776.2 1169 775.6 1172.7 773.3C1176.4 770.9 1182.7 766.8 1186.8 764.6C1190.9 762.4 1193.2 761.3 1197.5 760C1201.8 758.7 1208.3 758.2 1212.5 756.7C1216.7 755.2 1217.8 753.6 1222.4 751.3C1227 749 1234.1 745 1240 742.9C1245.9 740.8 1252 740.1 1258 738.4C1264 736.7 1269.9 734.5 1275.9 732.6C1281.9 730.7 1287.9 728.9 1293.9 726.7C1299.9 724.5 1305.9 721.6 1311.9 719.5C1317.9 717.4 1323.8 715.4 1329.8 714.1C1335.8 712.8 1341.2 712.6 1347.8 711.8C1354.4 711 1361.9 709.8 1369.4 709.3C1376.9 708.8 1384.3 709.2 1392.7 708.7C1401.1 708.2 1412.2 707 1419.7 706.4C1427.2 705.8 1431.7 705.5 1437.7 704.8C1443.7 704.1 1449.6 703.1 1455.6 702.1C1461.6 701.1 1467.6 699.8 1473.6 698.8C1479.6 697.8 1485.9 696.8 1491.6 696.1C1497.3 695.4 1502.3 695.8 1508 694.6C1513.7 693.5 1519.9 691 1525.9 689.2C1531.9 687.4 1537.9 685.4 1543.9 683.8C1549.9 682.1 1555.9 680.8 1561.9 679.3C1567.9 677.8 1573.8 676.2 1579.8 674.9C1585.8 673.6 1591.8 672.2 1597.8 671.3C1603.8 670.4 1609.8 670.1 1615.8 669.5C1621.8 668.9 1627.8 668.3 1633.8 667.7C1639.8 667.1 1645.7 666.5 1651.7 665.9C1657.7 665.3 1663.7 664.8 1669.7 664.4C1675.7 664 1681.7 663.8 1687.7 663.5C1693.7 663.2 1699.6 663 1705.6 662.8C1711.6 662.6 1717.9 662.4 1723.6 662.3C1729.3 662.2 1734.3 662.6 1740 662.3C1745.7 662 1752 661.3 1758 660.7C1764 660.1 1770.8 659.6 1775.9 658.9C1781 658.2 1784 658 1788.5 656.5C1793 655 1798.1 652.9 1802.9 650.2C1807.7 647.5 1812.8 644 1817.3 640.4C1821.8 636.8 1825.9 632.2 1829.8 628.7C1833.7 625.2 1836.7 622.7 1840.6 619.7C1844.5 616.7 1849 613.7 1853.2 610.7C1857.4 607.7 1860.7 605 1865.8 601.7C1870.9 598.4 1877.8 593.9 1883.8 590.9C1889.8 587.9 1895.7 586.7 1901.7 583.7C1907.7 580.7 1913.7 576.6 1919.7 573C1925.7 569.4 1931.7 565.5 1937.7 562.2C1943.7 558.9 1949.6 555.7 1955.6 553.2C1961.6 550.8 1967.6 549.6 1973.6 547.5C1979.6 545.4 1983.9 543 1991.6 540.6C1999.3 538.2 2012.3 535.4 2020 533.4C2027.7 531.4 2032 530.7 2038 528.9C2044 527.1 2049.9 524.7 2055.9 522.6C2061.9 520.5 2067.9 518.2 2073.9 516.3C2079.9 514.3 2085.9 512.6 2091.9 510.9C2097.9 509.2 2103.8 507.4 2109.8 506C2115.8 504.6 2121.8 503.7 2127.8 502.8C2133.8 501.9 2139.8 501.9 2145.8 500.7C2151.8 499.5 2158.4 497.1 2163.8 495.6C2169.2 494.2 2173.6 492.8 2178.1 492C2182.6 491.2 2186.1 490.6 2190.7 490.6C2195.3 490.6 2200.4 491.6 2205.9 492.1C2211.4 492.7 2217.9 493 2223.9 493.9C2229.9 494.8 2235.9 496.6 2241.9 497.5C2247.9 498.4 2253.8 498.8 2259.8 499.3C2265.8 499.8 2271.8 500.2 2277.8 500.7C2283.8 501.1 2289.8 501.2 2295.8 502C2301.8 502.8 2307.8 504.6 2313.8 505.6C2319.8 506.7 2325 507.1 2331.7 508.3C2338.4 509.5 2350.4 511.9 2354.2 512.6" fill="none" stroke="#d63b68" stroke-width="1.4" stroke-linejoin="round"/>
<path d="M14.8 1158.6C18.7 1158.8 26.4 1158.6 38 1159.6C49.6 1160.6 67.3 1163 84.4 1164.5C101.5 1166 126.5 1167.4 140.6 1168.8C154.7 1170.2 160.1 1171.9 168.8 1173C177.5 1174.1 186.8 1175.3 192.7 1175.4C198.5 1175.5 199.7 1174.7 203.9 1173.7C208.1 1172.7 212.2 1171 218 1169.5C223.8 1168 232 1166.2 239 1164.5C246 1162.8 253.8 1160.7 260.1 1159.2C266.4 1157.7 271.1 1156.1 277 1155.4C282.9 1154.7 289.9 1154.9 295.3 1155C300.7 1155.1 304.7 1155.8 309.4 1155.8C314.1 1155.8 318.4 1155.1 323.5 1154.7C328.6 1154.3 332.6 1154.1 340 1153.3C347.4 1152.5 359.9 1150.7 368.1 1149.8C376.3 1148.9 382.2 1148 389.2 1147.7C396.2 1147.4 402.1 1147.7 410.3 1147.9C418.5 1148.1 429.7 1148.7 438.4 1149.1C447.1 1149.5 455.3 1150.5 462.3 1150.5C469.3 1150.5 472.9 1149.7 480.6 1149.1C488.4 1148.5 499.4 1147.6 508.8 1147C518.2 1146.4 530.4 1145.8 536.9 1145.3C543.4 1144.8 544.4 1144.1 548.1 1144.1C551.9 1144.1 551.9 1144.7 559.4 1145.5C566.9 1146.3 580.5 1148.1 593.1 1149.1C605.8 1150 623.6 1150.4 635.3 1151.2C647 1152 655.9 1153.4 663.4 1154C670.9 1154.6 673.9 1154.5 680 1154.7C686.1 1155 693.3 1155.4 700 1155.5C706.7 1155.6 713.5 1155.8 720 1155.2C726.5 1154.6 733.7 1154.9 739 1152C744.3 1149.1 746.8 1144.3 751.9 1137.7C757 1131.1 763.8 1121.8 769.8 1112.5C775.8 1103.2 781.8 1093.1 787.8 1082C793.8 1070.9 801 1057.7 805.8 1046C810.6 1034.3 814.4 1019.6 816.6 1011.9C818.9 1004.2 817.2 1009 819.3 1000C821.4 991 824.1 975.8 829.2 957.8C834.3 939.8 844.2 908 849.7 891.7C855.2 875.4 857.7 871.5 862.2 860C866.7 848.5 872.1 834.4 876.6 822.8C881.1 811.2 884.9 799.2 889.1 790.5C893.3 781.8 896 778.6 901.7 770.7C907.4 762.8 917.3 749.6 923.3 742.9C929.3 736.2 933.4 733.4 937.7 730.3C942 727.1 944.8 728.4 949.3 724C953.8 719.6 959.6 710.2 964.6 704.2C969.6 698.2 974.5 692.5 979 688C983.5 683.5 988.3 680.7 991.6 677.3C994.9 673.9 996.3 671.1 999 667.7C1001.7 664.3 1005.8 659.9 1008 656.9C1010.2 653.9 1010.7 654.5 1012.5 649.7C1014.3 644.9 1016.6 635.3 1018.8 628.1C1021 620.9 1023.2 613.8 1025.9 606.6C1028.6 599.4 1031.9 591.8 1034.9 585C1037.9 578.2 1040.9 571.9 1043.9 566.1C1046.9 560.3 1049.9 555.5 1052.9 550C1055.9 544.5 1058.9 538.1 1061.9 532.9C1064.9 527.6 1067.9 523.1 1070.9 518.5C1073.9 513.9 1077.1 508.6 1079.8 505C1082.5 501.4 1085 498.3 1087 496.6C1089 494.9 1089.7 495 1091.5 494.8C1093.3 494.6 1095.5 495 1098 495.5C1100.5 496 1103.8 496.5 1106.8 497.9C1109.8 499.3 1112.5 502 1115.8 504.1C1119.1 506.2 1123 508.6 1126.6 510.4C1130.2 512.2 1134.3 514.3 1137.3 514.9C1140.3 515.5 1142.1 514.8 1144.5 514C1146.9 513.2 1149 511.4 1151.7 510.4C1154.4 509.3 1157.7 508.4 1160.7 507.7C1163.7 506.9 1166.7 506.3 1169.7 505.9C1172.7 505.4 1175.7 505 1178.7 505C1181.7 505 1185 504.7 1187.7 505.9C1190.4 507.1 1192.2 509.5 1194.9 512.2C1197.6 514.9 1200.8 519 1203.8 522.1C1206.8 525.2 1210.5 530.1 1212.8 531.1C1215 532.1 1215.5 528.9 1217.3 528.4C1219.1 527.9 1221 527.9 1223.6 527.9C1226.1 527.9 1229.9 528.3 1232.6 528.4C1235.3 528.5 1238.2 528 1240 528.5C1241.8 529 1241.5 529 1243.6 531.2C1245.7 533.5 1249.3 538.9 1252.6 542C1255.9 545.1 1259.5 547.9 1263.4 550C1267.3 552.1 1271.4 553.1 1275.9 554.5C1280.4 555.9 1286.1 557.6 1290.3 558.1C1294.5 558.6 1297.5 557.9 1301.1 557.8C1304.7 557.6 1308 557.2 1311.9 557.2C1315.8 557.2 1320.6 556.9 1324.5 558.1C1328.4 559.3 1331.3 561.9 1335.2 564.4C1339.1 566.9 1343.9 570.4 1347.8 573.4C1351.7 576.4 1355.3 579.9 1358.6 582.4C1361.9 584.9 1364 584.8 1367.6 588.3C1371.2 591.8 1376 598.9 1380.2 603.1C1384.4 607.4 1388.5 611.3 1392.7 613.8C1396.9 616.3 1400.8 616.5 1405.3 618.3C1409.8 620.1 1415.5 622.8 1419.7 624.6C1423.9 626.4 1427.2 628 1430.5 629.1C1433.8 630.2 1435.3 631.2 1439.5 631.4C1443.7 631.6 1450.5 630.9 1455.6 630.4C1460.7 629.9 1465.5 629 1470 628.6C1474.5 628.2 1479 628.1 1482.6 628.2C1486.2 628.3 1488.9 628.7 1491.6 629.1C1494.3 629.5 1496.3 630.4 1499 630.8C1501.7 631.2 1505.3 632.2 1508 631.7C1510.7 631.2 1512.2 629.9 1515.2 628.1C1518.2 626.3 1521.7 623.7 1525.9 620.9C1530.1 618.1 1535.8 613.6 1540.3 611.1C1544.8 608.6 1548.7 607.2 1552.9 605.7C1557.1 604.2 1561.6 603.2 1565.5 602.1C1569.4 601 1572.1 599.6 1576.3 599C1580.5 598.4 1586.4 598.6 1590.6 598.5C1594.8 598.4 1597.8 597.9 1601.4 598.5C1605 599.1 1608 600.9 1612.2 602.1C1616.4 603.3 1622.4 604.5 1626.6 605.7C1630.8 606.9 1634 608.2 1637.3 609.3C1640.6 610.3 1642.7 611.9 1646.3 612C1649.9 612.1 1655 609.9 1658.9 609.8C1662.8 609.6 1666.1 610.4 1669.7 611.1C1673.3 611.8 1676 612.8 1680.5 613.8C1685 614.8 1691.5 615.7 1696.6 617.3C1701.7 618.9 1706.5 622.1 1711 623.6C1715.5 625.1 1719.1 625.3 1723.6 626C1728.1 626.7 1732.3 627.5 1738 627.8C1743.7 628.1 1751.7 628.1 1758 627.8C1764.3 627.5 1771.4 626.9 1775.9 626C1780.4 625.1 1781.9 624.6 1784.9 622.4C1787.9 620.1 1790.9 616.5 1793.9 612.5C1796.9 608.5 1799.9 603.2 1802.9 598.1C1805.9 593 1808.9 588 1811.9 582C1814.9 576 1817.5 571.8 1820.9 562.2C1824.3 552.6 1828.4 535.4 1832.1 524.6C1835.8 513.9 1839 505.2 1842.9 497.7C1846.8 490.2 1851.6 485.1 1855.5 479.7C1859.4 474.3 1862.7 469.8 1866.3 465.3C1869.9 460.8 1873.4 455.8 1877 452.7C1880.6 449.6 1884.2 448.3 1887.8 446.5C1891.4 444.7 1895 443.6 1898.6 442C1902.2 440.4 1906.4 438.9 1909.4 436.6C1912.4 434.4 1913.6 432.1 1916.6 428.5C1919.6 424.9 1923.7 419.1 1927.3 415C1930.9 410.9 1934.5 406.9 1938.1 404.2C1941.7 401.4 1945.3 400.1 1948.9 398.5C1952.5 396.9 1955.5 395.2 1959.7 394.3C1963.9 393.4 1969.5 393.8 1974 393.4C1978.5 393 1983 392.3 1986.6 392.2C1990.2 392.1 1992.3 392.4 1995.6 392.5C1998.9 392.6 2002.8 392.4 2006.4 393.1C2010 393.9 2012.5 395.5 2017.2 397C2021.9 398.5 2029.2 400.7 2034.4 402.2C2039.7 403.7 2043.9 405.6 2048.7 405.8C2053.5 406 2058.3 404.6 2063.1 403.1C2067.9 401.6 2072.7 398.6 2077.5 396.8C2082.3 395 2087.7 393.4 2091.9 392.3C2096.1 391.2 2099.1 390.7 2102.7 390.5C2106.3 390.3 2109.8 390.4 2113.4 391C2117 391.6 2120.3 392.8 2124.2 394.1C2128.1 395.4 2132.6 397.3 2136.8 398.6C2141 399.9 2145.5 401.7 2149.4 401.8C2153.3 401.9 2156.9 400.2 2160.2 399.5C2163.5 398.8 2165.8 398.1 2169.1 397.7C2172.4 397.3 2176.6 396.8 2179.9 397.2C2183.2 397.6 2186.2 398 2188.9 400C2191.6 402 2193.1 405.7 2196.1 409.4C2199.1 413.1 2203.3 418.1 2206.9 422C2210.5 425.9 2215 429.7 2217.7 432.7C2220.4 435.7 2220.5 437 2223 440C2225.5 443 2228.8 446.4 2232.9 450.8C2237 455.2 2243.4 462.6 2247.3 466.1C2251.2 469.6 2253 470.7 2256.3 472C2259.6 473.3 2263.4 473.3 2267 474.1C2270.6 474.9 2274.2 475.5 2277.8 476.8C2281.4 478.1 2285.3 480.5 2288.6 482.2C2291.9 483.9 2294.6 484.6 2297.6 487.1C2300.6 489.7 2303.9 494.4 2306.6 497.5C2309.3 500.6 2311.1 503.1 2313.8 505.6C2316.5 508.2 2319.7 511.2 2322.7 512.8C2325.7 514.4 2328.4 513.8 2331.7 515.1C2335 516.5 2338.8 518.5 2342.5 520.9C2346.2 523.2 2352.2 527.8 2354.2 529.2" fill="none" stroke="#3f63d8" stroke-width="1.4" stroke-linejoin="round"/>
<path d="M1812.3 157Q1836.2 128.8 1865.4 161.4" fill="none" stroke="#9b30b8" stroke-width="2.5" stroke-linecap="butt"/>
<path d="M1904.9 248.2Q1934 222.9 1979.5 257.2" fill="none" stroke="#9b30b8" stroke-width="2.5" stroke-linecap="butt"/>
<path d="M2054.1 315.9Q2078 289.6 2107.2 320.4" fill="none" stroke="#9b30b8" stroke-width="2.5" stroke-linecap="butt"/>
<path d="M2151.2 335.3Q2175.2 311.1 2203.6 345.6" fill="none" stroke="#9b30b8" stroke-width="2.5" stroke-linecap="butt"/>
<path d="M2248.2 468.8Q2271.9 442.1 2304.8 477.4" fill="none" stroke="#9b30b8" stroke-width="2.5" stroke-linecap="butt"/>
<path d="M2313.8 506.5Q2339 485.1 2370.9 509.7" fill="none" stroke="#9b30b8" stroke-width="2.5" stroke-linecap="butt"/>
<path d="M1865.2 460.7Q1898.9 487.6 1927 467.4" fill="none" stroke="#e2434f" stroke-width="2.5" stroke-linecap="butt"/>
<path d="M1988.4 468.9Q2022.6 491.5 2049.6 474.1" fill="none" stroke="#e2434f" stroke-width="2.5" stroke-linecap="butt"/>
<path d="M2212.2 630.5Q2233.6 661.7 2252.3 638.6" fill="none" stroke="#e2434f" stroke-width="2.5" stroke-linecap="butt"/>
<path d="M2282.8 670.9Q2312.7 717.5 2339.8 675" fill="none" stroke="#e2434f" stroke-width="2.5" stroke-linecap="butt"/>
<path d="M677 1151.5Q684.5 1142.7 694 1152" fill="none" stroke="#e2434f" stroke-width="1.6" stroke-linecap="butt"/>
</g>
<text x="2438.2" y="131.5" font-size="24" fill="#1d1d22" stroke="#1d1d22" stroke-width="0.12" letter-spacing="0.35">3.8000</text>
<text x="2438.2" y="194.9" font-size="24" fill="#1d1d22" stroke="#1d1d22" stroke-width="0.12" letter-spacing="0.35">3.6000</text>
<text x="2438.2" y="258.3" font-size="24" fill="#1d1d22" stroke="#1d1d22" stroke-width="0.12" letter-spacing="0.35">3.4000</text>
<text x="2438.2" y="321.7" font-size="24" fill="#1d1d22" stroke="#1d1d22" stroke-width="0.12" letter-spacing="0.35">3.2000</text>
<text x="2438.2" y="385.1" font-size="24" fill="#1d1d22" stroke="#1d1d22" stroke-width="0.12" letter-spacing="0.35">3.0000</text>
<text x="2438.2" y="448.5" font-size="24" fill="#1d1d22" stroke="#1d1d22" stroke-width="0.12" letter-spacing="0.35">2.8000</text>
<text x="2438.2" y="511.9" font-size="24" fill="#1d1d22" stroke="#1d1d22" stroke-width="0.12" letter-spacing="0.35">2.6000</text>
<text x="2438.2" y="575.2" font-size="24" fill="#1d1d22" stroke="#1d1d22" stroke-width="0.12" letter-spacing="0.35">2.4000</text>
<text x="2438.2" y="638.6" font-size="24" fill="#1d1d22" stroke="#1d1d22" stroke-width="0.12" letter-spacing="0.35">2.2000</text>
<text x="2438.2" y="702" font-size="24" fill="#1d1d22" stroke="#1d1d22" stroke-width="0.12" letter-spacing="0.35">2.0000</text>
<text x="2438.2" y="765.4" font-size="24" fill="#1d1d22" stroke="#1d1d22" stroke-width="0.12" letter-spacing="0.35">1.8000</text>
<text x="2438.2" y="828.8" font-size="24" fill="#1d1d22" stroke="#1d1d22" stroke-width="0.12" letter-spacing="0.35">1.6000</text>
<text x="2438.2" y="892.2" font-size="24" fill="#1d1d22" stroke="#1d1d22" stroke-width="0.12" letter-spacing="0.35">1.4000</text>
<text x="2438.2" y="955.6" font-size="24" fill="#1d1d22" stroke="#1d1d22" stroke-width="0.12" letter-spacing="0.35">1.2000</text>
<text x="2438.2" y="1019" font-size="24" fill="#1d1d22" stroke="#1d1d22" stroke-width="0.12" letter-spacing="0.35">1.0000</text>
<text x="2438.2" y="1082.4" font-size="24" fill="#1d1d22" stroke="#1d1d22" stroke-width="0.12" letter-spacing="0.35">0.8000</text>
<text x="2438.2" y="1145.8" font-size="24" fill="#1d1d22" stroke="#1d1d22" stroke-width="0.12" letter-spacing="0.35">0.6000</text>
<text x="2438.2" y="1209.1" font-size="24" fill="#1d1d22" stroke="#1d1d22" stroke-width="0.12" letter-spacing="0.35">0.4000</text>
<text x="2438.2" y="1272.5" font-size="24" fill="#1d1d22" stroke="#1d1d22" stroke-width="0.12" letter-spacing="0.35">0.2000</text>
<path d="M2424 149.8h97a3 3 0 0 1 3 3v26.6a3 3 0 0 1 -3 3h-97z" fill="#f23645"/>
<text x="2438.2" y="174.5" font-size="24" fill="#fff" stroke="#fff" stroke-width="0.12" letter-spacing="0.35">3.6650</text>
<path d="M2424 750.2h97a3 3 0 0 1 3 3v26.6a3 3 0 0 1 -3 3h-97z" fill="#f23645"/>
<text x="2438.2" y="774.9" font-size="24" fill="#fff" stroke="#fff" stroke-width="0.12" letter-spacing="0.35">1.7707</text>
<rect x="2428.5" y="44.5" width="111.5" height="37" rx="6" fill="#fff" stroke="#f0f0f2" stroke-width="1.4"/>
<text x="2441" y="69.5" font-size="17.5" fill="#1d1d22" textLength="35.5" lengthAdjust="spacing">USD</text>
<defs><clipPath id="tax"><rect x="15" y="1310" width="2408" height="50"/></clipPath></defs>
<g clip-path="url(#tax)" font-size="21.7" fill="#1d1d22" stroke="#1d1d22" stroke-width="0.15" text-anchor="middle" letter-spacing="0.85">
<text x="13.9" y="1342.3">Jun</text>
<text x="145.4" y="1342.3">Jul</text>
<text x="282.4" y="1342.3">Aug</text>
<text x="418.4" y="1342.3">Sep</text>
<text x="550.4" y="1342.3">Oct</text>
<text x="686.4" y="1342.3">Nov</text>
<text x="818.4" y="1342.3">Dec</text>
<text x="955.4" y="1342.3" font-weight="bold" letter-spacing="2">2025</text>
<text x="1091.4" y="1342.3">Feb</text>
<text x="1214.4" y="1342.3">Mar</text>
<text x="1350.4" y="1342.3">Apr</text>
<text x="1482.4" y="1342.3">May</text>
<text x="1619.4" y="1342.3">Jun</text>
<text x="1751.4" y="1342.3">Jul</text>
<text x="1887.4" y="1342.3">Aug</text>
<text x="2023.4" y="1342.3">Sep</text>
<text x="2155.4" y="1342.3">Oct</text>
<text x="2291.4" y="1342.3">Nov</text>
<text x="2424.4" y="1342.3">Dec</text>
</g>
<text x="14.5" y="29" font-size="18" fill="#1d1d22" stroke="#1d1d22" stroke-width="0.25" textLength="546.5" lengthAdjust="spacing">crispus9 created with TradingView.com, Nov 15, 2025 15:53 UTC+3</text>
<text x="25.9" y="67.5" font-size="16.9" fill="#1d1d22" stroke="#1d1d22" stroke-width="0.25" textLength="258.7" lengthAdjust="spacing">XRP / U.S. Dollar · 1D · Coinbase</text>
<text x="295.8" y="67.5" font-size="16.9" fill="#1d1d22" stroke="#1d1d22" stroke-width="0.25">O</text>
<text x="309.3" y="67.5" font-size="16.9" fill="#279e89" stroke="#279e89" stroke-width="0.25" textLength="55.7" lengthAdjust="spacing">2.2425</text>
<text x="376.3" y="67.5" font-size="16.9" fill="#1d1d22" stroke="#1d1d22" stroke-width="0.25">H</text>
<text x="388.6" y="67.5" font-size="16.9" fill="#279e89" stroke="#279e89" stroke-width="0.25" textLength="54.3" lengthAdjust="spacing">2.3018</text>
<text x="454.2" y="67.5" font-size="16.9" fill="#1d1d22" stroke="#1d1d22" stroke-width="0.25">L</text>
<text x="463.4" y="67.5" font-size="16.9" fill="#279e89" stroke="#279e89" stroke-width="0.25" textLength="56.8" lengthAdjust="spacing">2.2406</text>
<text x="530.9" y="67.5" font-size="16.9" fill="#1d1d22" stroke="#1d1d22" stroke-width="0.25">C</text>
<text x="543.3" y="67.5" font-size="16.9" fill="#279e89" stroke="#279e89" stroke-width="0.25" textLength="56.2" lengthAdjust="spacing">2.2594</text>
<text x="610.8" y="67.5" font-size="16.9" fill="#1d1d22" stroke="#1d1d22" stroke-width="0.25" textLength="24.2" lengthAdjust="spacing">Vol</text>
<text x="636.1" y="67.5" font-size="16.9" fill="#279e89" stroke="#279e89" stroke-width="0.25" textLength="44.9" lengthAdjust="spacing">23.08</text>
<text x="685.6" y="67.5" font-size="16.9" fill="#279e89" stroke="#279e89" stroke-width="0.25" textLength="13.2" lengthAdjust="spacing">M</text>
<text x="25.9" y="91.7" font-size="16.9" fill="#1d1d22" stroke="#1d1d22" stroke-width="0.25" textLength="127.1" lengthAdjust="spacing">EMA (50, close)</text>
<text x="164.5" y="91.7" font-size="16.9" fill="#3f63d8" stroke="#3f63d8" stroke-width="0.25" textLength="53.7" lengthAdjust="spacing">2.5198</text>
<text x="25.9" y="115.9" font-size="16.9" fill="#1d1d22" stroke="#1d1d22" stroke-width="0.25" textLength="137.2" lengthAdjust="spacing">EMA (200, close)</text>
<text x="175.2" y="115.9" font-size="16.9" fill="#d63b68" stroke="#d63b68" stroke-width="0.25" textLength="52.6" lengthAdjust="spacing">2.5716</text>
<text x="25.9" y="140" font-size="16.9" fill="#1d1d22" stroke="#1d1d22" stroke-width="0.25" textLength="146.2" lengthAdjust="spacing">Supertrend (10, 3)</text>
<text x="183.6" y="139.4" font-size="12.6" font-weight="bold" fill="#1d1d22">∅</text>
<text x="206.1" y="140" font-size="16.9" fill="#e0505a" stroke="#e0505a" stroke-width="0.25" textLength="55.9" lengthAdjust="spacing">2.6955</text>
<g fill="#16161a">
<path d="M17 1392.7h16.9v21h-8.3v-13h-8.6z"/>
<circle cx="41.25" cy="1396.9" r="4.2"/>
<path d="M48.6 1392.7h11.2l-7.3 21h-11.25z"/>
<text x="69.3" y="1413.7" font-size="29.4" font-weight="bold" stroke="#16161a" stroke-width="0.5" textLength="173.6" lengthAdjust="spacingAndGlyphs">TradingView</text>
</g>
</svg>
</body></html>
